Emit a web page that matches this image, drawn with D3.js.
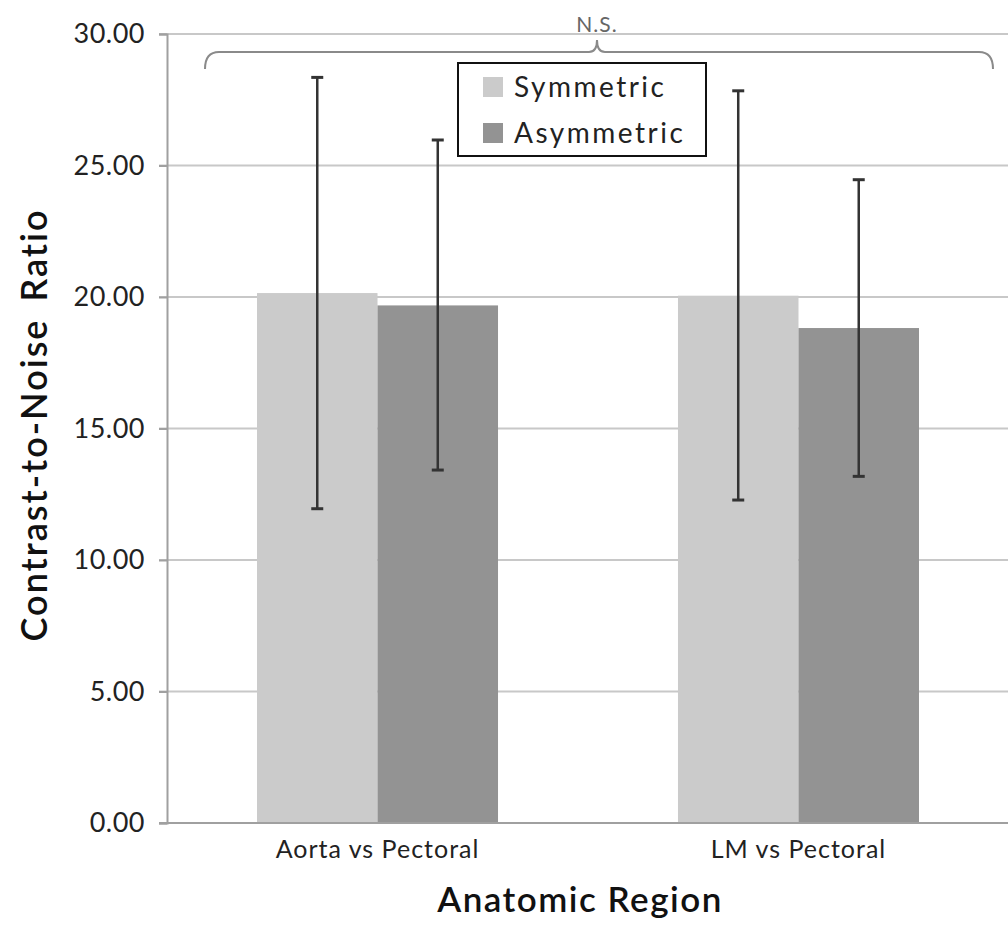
<!DOCTYPE html>
<html>
<head>
<meta charset="utf-8">
<script src="https://cdn.jsdelivr.net/npm/d3@7/dist/d3.min.js"></script>
<style>
  body { margin: 0; background: #fff; }
  text { font-family: Lato, "Open Sans", sans-serif; }
</style>
</head>
<body>
<div id="chart"></div>
<script>
// Chart data
// ================================
var categories = ["Aorta vs Pectoral", "LM vs Pectoral"];
var seriesNames = ["Symmetric", "Asymmetric"];
var symmetricValues = [20.15, 20.05];
var asymmetricValues = [19.68, 18.82];
var symmetricLow = [11.95, 12.28];
var symmetricHigh = [28.35, 27.84];
var asymmetricLow = [13.42, 13.18];
var asymmetricHigh = [25.97, 24.46];
var yTicks = [0, 5, 10, 15, 20, 25, 30];
var colors = ["#cbcbcb", "#939393"];

// Set up our chart
// ================================
var svgWidth = 1008;
var svgHeight = 925;
var plot = { left: 167, right: 1009, top: 34, bottom: 823 };

var svg = d3.select("#chart")
  .append("svg")
  .attr("width", svgWidth)
  .attr("height", svgHeight);

// build a flat table for the bars
var rows = [];
categories.forEach(function(cat, i) {
  rows.push({ cat: cat, series: seriesNames[0], value: symmetricValues[i], low: symmetricLow[i], high: symmetricHigh[i] });
  rows.push({ cat: cat, series: seriesNames[1], value: asymmetricValues[i], low: asymmetricLow[i], high: asymmetricHigh[i] });
});

// Scales
var xScale = d3.scaleBand()
  .domain(categories)
  .range([plot.left, plot.right])
  .paddingInner(0.4275)
  .paddingOuter(0.2138);

var xSub = d3.scaleBand()
  .domain(seriesNames)
  .range([0, xScale.bandwidth()]);

var yScale = d3.scaleLinear()
  .domain([0, 30])
  .range([plot.bottom, plot.top]);

var color = d3.scaleOrdinal().domain(seriesNames).range(colors);

// Gridlines
svg.append("g")
  .selectAll("line")
  .data(yTicks.slice(1))
  .enter()
  .append("line")
  .attr("x1", plot.left - 8)
  .attr("x2", svgWidth)
  .attr("y1", d => yScale(d))
  .attr("y2", d => yScale(d))
  .attr("stroke", "#c8c8c8")
  .attr("stroke-width", 2);

// Y axis
var leftAxis = d3.axisLeft(yScale)
  .tickValues(yTicks)
  .tickFormat(d3.format(".2f"))
  .tickSize(8)
  .tickPadding(14);

var yAxisG = svg.append("g")
  .attr("transform", `translate(${plot.left}, 0)`)
  .call(leftAxis);
yAxisG.select(".domain").attr("stroke", "#a0a0a0").attr("stroke-width", 2);
yAxisG.selectAll(".tick line").attr("stroke", "#a0a0a0").attr("stroke-width", 2);
yAxisG.selectAll(".tick text")
  .style("font-family", "Lato, 'Open Sans', sans-serif")
  .style("font-size", "27px")
  .style("letter-spacing", "0.5px")
  .attr("fill", "#222");

// Bars
svg.append("g")
  .selectAll("rect")
  .data(rows)
  .enter()
  .append("rect")
  .attr("x", d => xScale(d.cat) + xSub(d.series))
  .attr("y", d => yScale(d.value))
  .attr("width", xSub.bandwidth())
  .attr("height", d => yScale(0) - yScale(d.value))
  .attr("fill", d => color(d.series));

// X axis
var bottomAxis = d3.axisBottom(xScale).tickSize(0).tickPadding(17);
var xAxisG = svg.append("g")
  .attr("transform", `translate(0, ${plot.bottom})`)
  .call(bottomAxis);
xAxisG.select(".domain").remove();
xAxisG.append("line")
  .attr("x1", plot.left - 8)
  .attr("x2", svgWidth)
  .attr("stroke", "#a0a0a0")
  .attr("stroke-width", 2);
xAxisG.selectAll(".tick text")
  .style("font-family", "Lato, 'Open Sans', sans-serif")
  .style("font-size", "25px")
  .style("letter-spacing", "1px")
  .attr("fill", "#222");

// Error bars
var errG = svg.append("g");
var capW = 6;
rows.forEach(function(d) {
  var cx = xScale(d.cat) + xSub(d.series) + xSub.bandwidth() / 2;
  errG.append("line")
    .attr("x1", cx).attr("x2", cx)
    .attr("y1", yScale(d.high)).attr("y2", yScale(d.low))
    .attr("stroke", "#333").attr("stroke-width", 2.5);
  [d.high, d.low].forEach(function(v) {
    errG.append("line")
      .attr("x1", cx - capW).attr("x2", cx + capW)
      .attr("y1", yScale(v)).attr("y2", yScale(v))
      .attr("stroke", "#333").attr("stroke-width", 3);
  });
});

// Significance brace
var bx0 = 205, bx1 = 993, bmid = 597;
var by = 52, bEnd = 69, bTip = 40;
var brace = d3.path();
brace.moveTo(bx0, bEnd);
brace.quadraticCurveTo(bx0, by, bx0 + 14, by);
brace.lineTo(bmid - 8, by);
brace.quadraticCurveTo(bmid, by, bmid, bTip);
brace.quadraticCurveTo(bmid, by, bmid + 8, by);
brace.lineTo(bx1 - 14, by);
brace.quadraticCurveTo(bx1, by, bx1, bEnd);
svg.append("path")
  .attr("d", brace.toString())
  .attr("fill", "none")
  .attr("stroke", "#8a8a8a")
  .attr("stroke-width", 2);

svg.append("text")
  .attr("x", bmid)
  .attr("y", 32)
  .attr("text-anchor", "middle")
  .style("font-size", "21px")
  .style("letter-spacing", "1px")
  .attr("fill", "#666")
  .text("N.S.");

// Legend
var legend = svg.append("g");
legend.append("rect")
  .attr("x", 458).attr("y", 63)
  .attr("width", 248).attr("height", 93)
  .attr("fill", "#fff")
  .attr("stroke", "#111")
  .attr("stroke-width", 2);
seriesNames.forEach(function(name, i) {
  var cy = 87 + i * 46;
  legend.append("rect")
    .attr("x", 483).attr("y", cy - 10)
    .attr("width", 20).attr("height", 20)
    .attr("fill", color(name));
  legend.append("text")
    .attr("x", 514).attr("y", cy + 10)
    .style("font-size", "28px")
    .style("letter-spacing", "2.5px")
    .attr("fill", "#222")
    .text(name);
});

// Axis titles
svg.append("text")
  .attr("transform", "rotate(-90)")
  .attr("x", -425)
  .attr("y", 47)
  .attr("text-anchor", "middle")
  .style("font-size", "36px")
  .style("font-weight", "600")
  .style("letter-spacing", "2px")
  .style("word-spacing", "6px")
  .attr("fill", "#111")
  .text("Contrast-to-Noise Ratio");

svg.append("text")
  .attr("x", 580)
  .attr("y", 912)
  .attr("text-anchor", "middle")
  .style("font-size", "35px")
  .style("font-weight", "600")
  .style("letter-spacing", "1.5px")
  .attr("fill", "#111")
  .text("Anatomic Region");
</script>
</body>
</html>
